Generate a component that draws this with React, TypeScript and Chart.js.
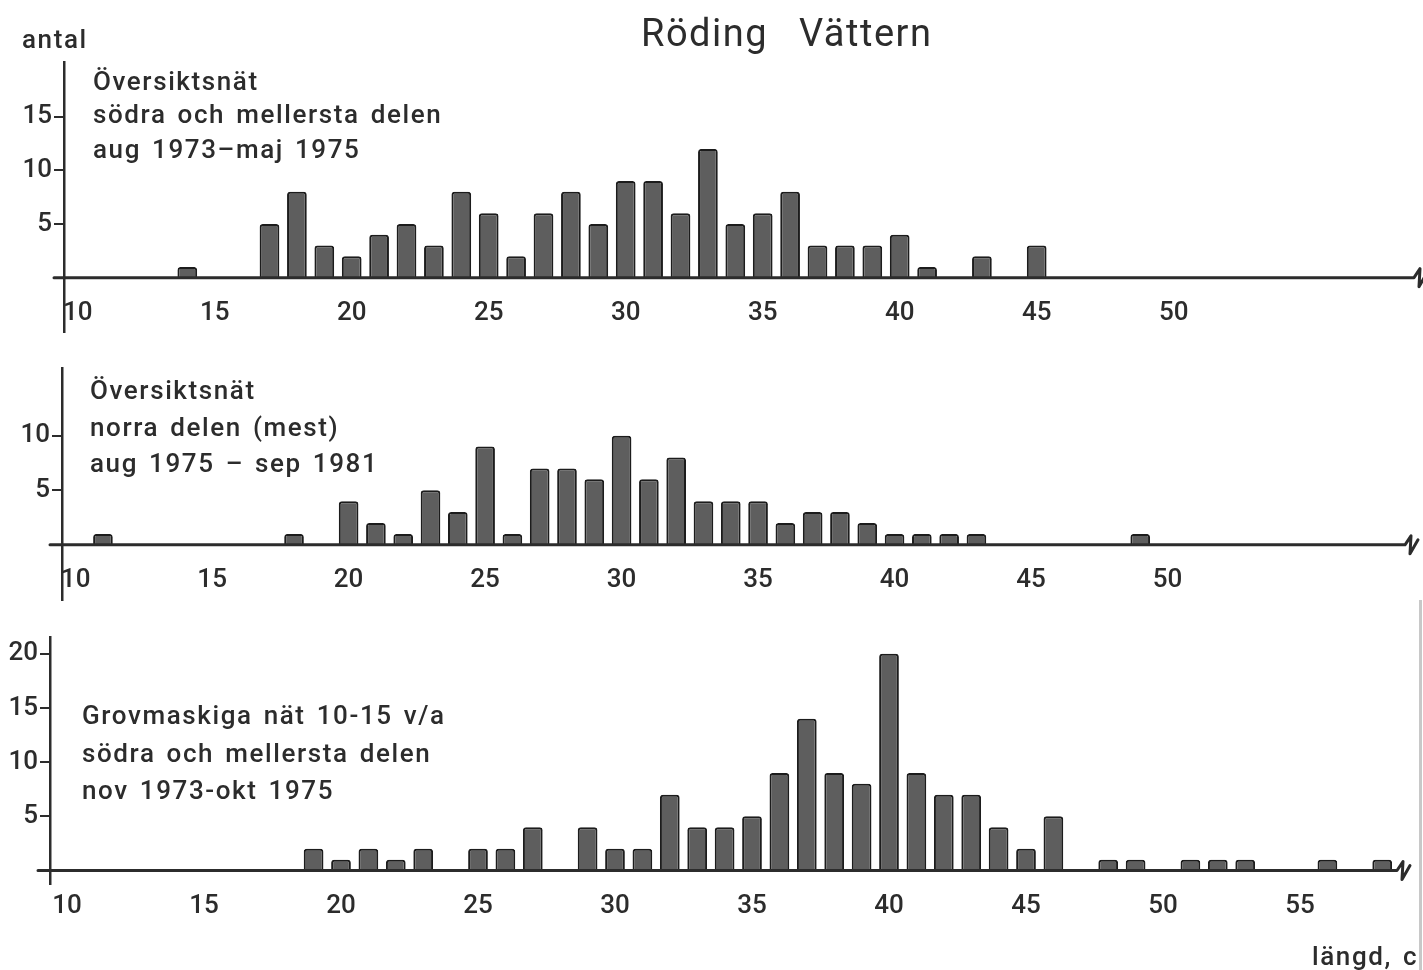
import React, { useEffect, useRef } from "react";
import { Chart, registerables } from "chart.js";

Chart.register(...registerables);

// Antal fångade röding per längdklass (cm)
// Översiktsnät, södra och mellersta delen, aug 1973–maj 1975
const southLengths = [14, 17, 18, 19, 20, 21, 22, 23, 24, 25, 26, 27, 28, 29, 30, 31, 32, 33, 34, 35, 36, 37, 38, 39, 40, 41, 43, 45];
const southCounts = [1, 5, 8, 3, 2, 4, 5, 3, 8, 6, 2, 6, 8, 5, 9, 9, 6, 12, 5, 6, 8, 3, 3, 3, 4, 1, 2, 3];

// Översiktsnät, norra delen (mest), aug 1975–sep 1981
const northLengths = [11, 18, 20, 21, 22, 23, 24, 25, 26, 27, 28, 29, 30, 31, 32, 33, 34, 35, 36, 37, 38, 39, 40, 41, 42, 43, 49];
const northCounts = [1, 1, 4, 2, 1, 5, 3, 9, 1, 7, 7, 6, 10, 6, 8, 4, 4, 4, 2, 3, 3, 2, 1, 1, 1, 1, 1];

// Grovmaskiga nät 10-15 v/a, södra och mellersta delen, nov 1973-okt 1975
const coarseLengths = [19, 20, 21, 22, 23, 25, 26, 27, 29, 30, 31, 32, 33, 34, 35, 36, 37, 38, 39, 40, 41, 42, 43, 44, 45, 46, 48, 49, 51, 52, 53, 56, 58];
const coarseCounts = [2, 1, 2, 1, 2, 2, 2, 4, 4, 2, 2, 7, 4, 4, 5, 9, 14, 9, 8, 20, 9, 7, 7, 4, 2, 5, 1, 1, 1, 1, 1, 1, 1];

const xTicksShort = [10, 15, 20, 25, 30, 35, 40, 45, 50];
const xTicksLong = [10, 15, 20, 25, 30, 35, 40, 45, 50, 55];
const yTicksTop = [5, 10, 15];
const yTicksMid = [5, 10];
const yTicksBottom = [5, 10, 15, 20];

const W = 1423;
const INK = "#2c2c2c";
const FONT = "Roboto, 'DejaVu Sans', sans-serif";
const Y_AXIS_W = 45;

type PanelSpec = {
  top: number;
  height: number;
  area: { left: number; right: number; top: number; bottom: number };
  xMin: number;
  xMax: number;
  yMin: number;
  yMax: number;
  xTicks: number[];
  yTicks: number[];
  lengths: number[];
  counts: number[];
  lead: number;
};

// baseline at zero with a short lead past the y axis and a break mark at the end
const baselinePlugin = {
  id: "baseline",
  afterDatasetsDraw(chart: any, _args: any, opts: any) {
    const { ctx, chartArea } = chart;
    const y0 = chart.scales.y.getPixelForValue(0);
    const r = chartArea.right;
    ctx.save();
    ctx.strokeStyle = INK;
    ctx.lineWidth = 3;
    ctx.lineJoin = "round";
    ctx.lineCap = "round";
    ctx.beginPath();
    ctx.moveTo(chartArea.left - (opts.lead || 10), y0);
    ctx.lineTo(r, y0);
    ctx.lineTo(r + 6, y0 - 9);
    ctx.lineTo(r + 5, y0 + 9);
    ctx.lineTo(r + 13, y0 - 5);
    ctx.stroke();
    ctx.restore();
  },
};

const panels: PanelSpec[] = [
  {
    top: 0,
    height: 350,
    area: { left: 64, right: 1414, top: 62, bottom: 337 },
    xMin: 9.5,
    xMax: 58.77,
    yMin: -5.1,
    yMax: 20.1,
    xTicks: xTicksShort,
    yTicks: yTicksTop,
    lengths: southLengths,
    counts: southCounts,
    lead: 10,
  },
  {
    top: 350,
    height: 270,
    area: { left: 62, right: 1405, top: 18, bottom: 250 },
    xMin: 9.5,
    xMax: 58.7,
    yMin: -5.05,
    yMax: 16.2,
    xTicks: xTicksShort,
    yTicks: yTicksMid,
    lengths: northLengths,
    counts: northCounts,
    lead: 12,
  },
  {
    top: 620,
    height: 350,
    area: { left: 50, right: 1397, top: 14, bottom: 264 },
    xMin: 9.38,
    xMax: 58.54,
    yMin: -1.25,
    yMax: 21.5,
    xTicks: xTicksLong,
    yTicks: yTicksBottom,
    lengths: coarseLengths,
    counts: coarseCounts,
    lead: 12,
  },
];

function Histogram({ spec }: { spec: PanelSpec }) {
  const ref = useRef<HTMLCanvasElement | null>(null);

  useEffect(() => {
    if (!ref.current) return;
    const chart = new Chart(ref.current, {
      type: "bar",
      data: {
        datasets: [
          {
            data: spec.lengths.map((x, i) => ({ x, y: spec.counts[i] })),
            backgroundColor: "#5e5e5e",
            borderColor: "#1c1c1c",
            borderWidth: 2,
            borderRadius: { topLeft: 3, topRight: 3, bottomLeft: 0, bottomRight: 0 },
            barPercentage: 0.72,
            categoryPercentage: 1,
          },
        ],
      },
      options: {
        responsive: false,
        animation: false,
        events: [],
        layout: {
          padding: {
            left: spec.area.left - Y_AXIS_W,
            right: W - spec.area.right,
            top: spec.area.top,
            bottom: spec.height - spec.area.bottom,
          },
        },
        plugins: {
          legend: { display: false },
          tooltip: { enabled: false },
          title: { display: false },
          baseline: { lead: spec.lead },
        } as any,
        scales: {
          x: {
            type: "linear",
            min: spec.xMin,
            max: spec.xMax,
            offset: false,
            position: { y: 0 } as any,
            grid: { display: false, offset: false },
            border: { display: false },
            ticks: {
              font: { family: FONT, size: 26, weight: "500" },
              color: INK,
              padding: 12,
              maxRotation: 0,
              autoSkip: false,
            },
            afterBuildTicks: (s: any) => {
              s.ticks = spec.xTicks.map((v) => ({ value: v }));
            },
            afterFit: (s: any) => {
              s.height = 0;
            },
          },
          y: {
            type: "linear",
            min: spec.yMin,
            max: spec.yMax,
            grid: {
              display: true,
              drawOnChartArea: false,
              drawTicks: true,
              tickLength: 10,
              color: INK,
              lineWidth: 2,
            },
            border: { display: true, color: INK, width: 2.5 },
            ticks: {
              font: { family: FONT, size: 26, weight: "500" },
              color: INK,
              padding: 2,
            },
            afterBuildTicks: (s: any) => {
              s.ticks = spec.yTicks.map((v) => ({ value: v }));
            },
            afterFit: (s: any) => {
              s.width = Y_AXIS_W;
            },
          },
        },
      },
      plugins: [baselinePlugin],
    } as any);
    return () => chart.destroy();
  }, [spec]);

  return (
    <canvas
      ref={ref}
      width={W}
      height={spec.height}
      style={{ position: "absolute", left: 0, top: spec.top, width: W, height: spec.height }}
    />
  );
}

const textStyle: React.CSSProperties = {
  position: "absolute",
  fontFamily: FONT,
  fontSize: 26,
  lineHeight: "26px",
  fontWeight: 500,
  color: INK,
  letterSpacing: "1.6px",
  wordSpacing: "3px",
  whiteSpace: "nowrap",
};

// top = baseline - 22 for a 26px line
const notes: { x: number; baseline: number; text: string }[] = [
  { x: 93, baseline: 90, text: "Översiktsnät" },
  { x: 93, baseline: 123, text: "södra och mellersta delen" },
  { x: 93, baseline: 158, text: "aug 1973–maj 1975" },
  { x: 90, baseline: 399, text: "Översiktsnät" },
  { x: 90, baseline: 436, text: "norra delen (mest)" },
  { x: 90, baseline: 472, text: "aug 1975 – sep 1981" },
  { x: 82, baseline: 724, text: "Grovmaskiga nät 10-15 v/a" },
  { x: 82, baseline: 762, text: "södra och mellersta delen" },
  { x: 82, baseline: 799, text: "nov 1973-okt 1975" },
];

export default function App() {
  return (
    <div
      style={{
        position: "fixed",
        left: 0,
        top: 0,
        width: W,
        height: 970,
        overflow: "hidden",
        background: "#ffffff",
      }}
    >
      {panels.map((p, i) => (
        <Histogram key={i} spec={p} />
      ))}
      <div
        style={{
          ...textStyle,
          left: 641,
          top: 14,
          fontSize: 38,
          lineHeight: "38px",
          fontWeight: 400,
          letterSpacing: "1.5px",
          wordSpacing: "20px",
        }}
      >
        Röding Vättern
      </div>
      <div style={{ ...textStyle, left: 22, top: 48 - 22 }}>antal</div>
      {notes.map((n, i) => (
        <div key={i} style={{ ...textStyle, left: n.x, top: n.baseline - 22 }}>
          {n.text}
        </div>
      ))}
      <div
        style={{
          position: "absolute",
          left: 1300,
          top: 930,
          width: 118,
          height: 40,
          overflow: "hidden",
        }}
      >
        <div style={{ ...textStyle, left: 12, top: 965 - 22 - 930 }}>längd, cm</div>
      </div>
      <div
        style={{
          position: "absolute",
          left: 1419,
          top: 600,
          width: 3,
          height: 370,
          background: "#c8c8c8",
        }}
      />
    </div>
  );
}
